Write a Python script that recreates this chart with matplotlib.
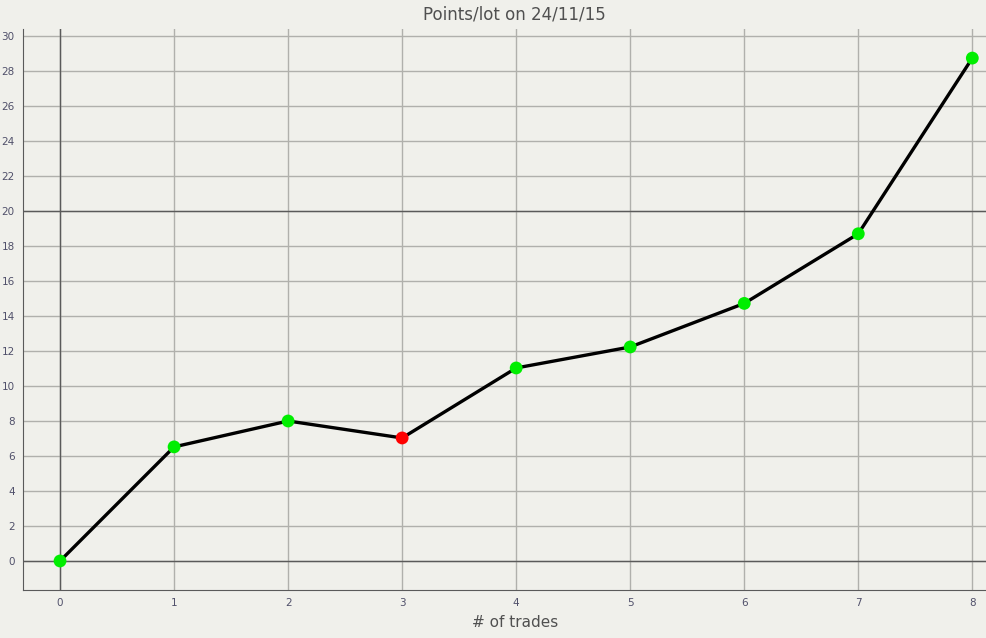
import numpy as np
from matplotlib import pyplot as plt

trades = [0, 1, 2, 3, 4, 5, 6, 7, 8]
points = [0, 6.52, 8.0, 7.03, 11.03, 12.23, 14.72, 18.7, 28.74]
is_loss = [False, False, False, True, False, False, False, False, False]
y_ticks = list(range(0, 31, 2))

bg = '#f0f0eb'
fig = plt.figure(figsize=(9.86, 6.38), dpi=100, facecolor=bg)
ax = fig.add_axes([0.0233, 0.0752, 0.9767, 0.8793], facecolor=bg)

ax.set_xlim(-0.325, 8.12)
ax.set_ylim(-1.66, 30.4)
ax.set_xticks(trades)
ax.set_yticks(y_ticks)
ax.grid(True, color='#b0b0ac', linewidth=1)
ax.set_axisbelow(True)
ax.axvline(0, color='#5a5a5a', linewidth=1, zorder=1)
for v in (0, 20):
    ax.axhline(v, color='#5a5a5a', linewidth=1, zorder=1)

ax.plot(trades, points, color='black', linewidth=2.4, zorder=2)
colors = ['#ff0000' if l else '#00ee00' for l in is_loss]
ax.scatter(trades, points, s=85, c=colors, zorder=3, linewidths=0)

for s in ('top', 'right'):
    ax.spines[s].set_visible(False)
for s in ('left', 'bottom'):
    ax.spines[s].set_color('#5a5a5a')
ax.tick_params(length=0, labelsize=7.5, labelcolor='#50506a', pad=6)

fig.text(0.522, 0.977, 'Points/lot on 24/11/15', ha='center', va='center',
         fontsize=12, color='#505050')
fig.text(0.522, 0.024, '# of trades', ha='center', va='center',
         fontsize=11, color='#505050')

plt.savefig('out.png', dpi=100, facecolor=bg)
